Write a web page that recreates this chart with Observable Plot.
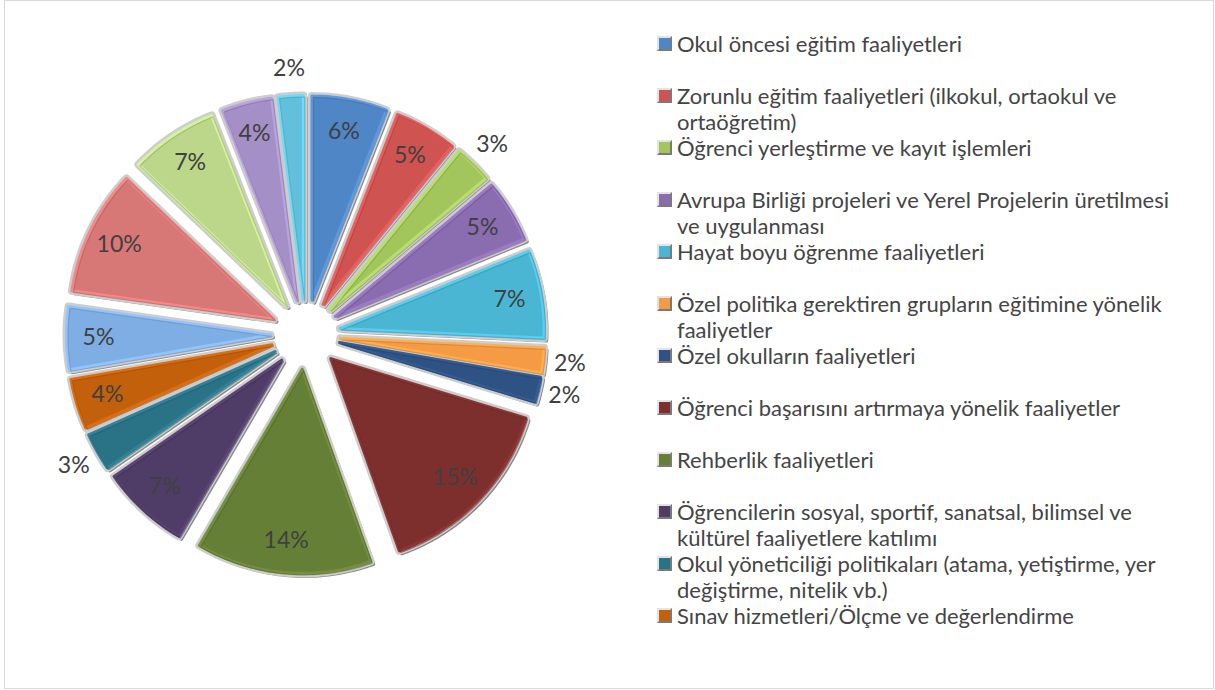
<!DOCTYPE html>
<html><head><meta charset="utf-8">
<script src="https://cdn.jsdelivr.net/npm/d3@7"></script>
<script src="https://cdn.jsdelivr.net/npm/@observablehq/plot@0.6"></script>
<style>
html,body{margin:0;padding:0;background:#fff;}
#chart{position:relative;width:1215px;height:690px;overflow:hidden;font-family:Lato,"Open Sans",sans-serif;}
#frame{position:absolute;left:4px;top:0;width:1210px;height:689px;border:1.5px solid #d9d9d9;box-sizing:border-box;}
#pie{position:absolute;left:0;top:0;}
#legend{position:absolute;left:657px;top:31px;width:555px;height:640px;}
.item{position:absolute;left:0;}
.sw{position:absolute;left:0;top:5px;width:11px;height:11px;border:2px solid;border-color:#e3e3e3 #7a7a7a #7a7a7a #e3e3e3;}
.tx{position:absolute;left:20px;top:0;line-height:26px;color:#454545;white-space:normal;}
.probe{position:absolute;visibility:hidden;white-space:nowrap;font-family:Lato,"Open Sans",sans-serif;}
</style></head>
<body><div id="chart"><div id="frame"></div><div id="pie"></div><div id="legend"></div></div>
<script>
// ---- data ----
const categories = [
  "Okul öncesi eğitim faaliyetleri",
  "Zorunlu eğitim faaliyetleri (ilkokul, ortaokul ve ortaöğretim)",
  "Öğrenci yerleştirme ve kayıt işlemleri",
  "Avrupa Birliği projeleri ve Yerel Projelerin üretilmesi ve uygulanması",
  "Hayat boyu öğrenme faaliyetleri",
  "Özel politika gerektiren grupların eğitimine yönelik faaliyetler",
  "Özel okulların faaliyetleri",
  "Öğrenci başarısını artırmaya yönelik faaliyetler",
  "Rehberlik faaliyetleri",
  "Öğrencilerin sosyal, sportif, sanatsal, bilimsel ve kültürel faaliyetlere katılımı",
  "Okul yöneticiliği politikaları (atama, yetiştirme, yer değiştirme, nitelik vb.)",
  "Sınav hizmetleri/Ölçme ve değerlendirme"
];
const values = [6, 5, 3, 5, 7, 2, 2, 15, 14, 7, 3, 4, 5, 10, 7, 4, 2];
const colors = [
  "#4f86c6", "#cf5350", "#a2c65c", "#8a6cb0", "#4bb6d3", "#f59a45",
  "#2d5283", "#7d2f2e", "#667f37", "#4f3d68", "#2a7387", "#c3600c",
  "#7eaee4", "#d87876", "#bcd68a", "#a48fc6", "#62c0dc"
];

// ---- layout ----
const W = 620, H = 690, CX = 305, CY = 334, R = 204, EXPLODE = 35;
const FONT = 'Lato, "Open Sans", sans-serif';

// calibrate font size with real DOM measurement
function domW(s, size){
  const sp = document.createElement("span");
  sp.className = "probe"; sp.style.fontSize = size + "px"; sp.textContent = s;
  document.body.appendChild(sp);
  const w = sp.getBoundingClientRect().width;
  sp.remove();
  return w;
}
let fs = 20 * 315 / domW(categories[0], 20);
fs = Math.max(15, Math.min(22, fs));

const arcs = d3.pie().sort(null).value(d => d)(values);
const pts = [];
arcs.forEach((p, i) => {
  const mid = (p.startAngle + p.endAngle) / 2;
  const ox = EXPLODE * Math.sin(mid), oy = EXPLODE * Math.cos(mid);
  pts.push({i, x: ox, y: oy});
  const n = Math.max(3, Math.ceil((p.endAngle - p.startAngle) / (Math.PI / 180)));
  for (let k = 0; k <= n; k++) {
    const a = p.startAngle + (p.endAngle - p.startAngle) * k / n;
    pts.push({i, x: ox + R * Math.sin(a), y: oy + R * Math.cos(a)});
  }
  pts.push({i, x: ox, y: oy});
});

const labels = arcs.map((p, i) => {
  const mid = (p.startAngle + p.endAngle) / 2;
  const outside = values[i] <= 3;
  const r = outside ? R + EXPLODE + 27 : R * 0.843 + EXPLODE;
  return {x: r * Math.sin(mid), y: r * Math.cos(mid), text: values[i] + "%"};
});

const plot = Plot.plot({
  width: W, height: H, margin: 0,
  x: {domain: [-CX, W - CX], axis: null},
  y: {domain: [-(H - CY), CY], axis: null},
  color: {type: "identity"},
  style: {background: "transparent"},
  marks: [
    Plot.line(pts, {x: "x", y: "y", z: "i", fill: "#8a8a8a", stroke: "#8a8a8a", strokeWidth: 4, dx: 2.5, dy: 2.5, strokeLinejoin: "round", curve: "linear"}),
    Plot.line(pts, {x: "x", y: "y", z: "i", fill: "#cdcdcd", stroke: "#cdcdcd", strokeWidth: 8, strokeLinejoin: "round", curve: "linear"}),
    Plot.line(pts, {x: "x", y: "y", z: "i", fill: d => colors[d.i], stroke: d => d3.color(colors[d.i]).brighter(0.35).formatHex(), strokeWidth: 3, strokeLinejoin: "round", curve: "linear"}),
    Plot.line(pts, {x: "x", y: "y", z: "i", fill: "none", stroke: d => d3.color(colors[d.i]).darker(0.6).formatHex(), strokeWidth: 1.2, strokeOpacity: 0.6, dx: 1.5, dy: 1.5, curve: "linear"}),
    Plot.text(labels, {x: "x", y: "y", text: "text", fill: "#404040", fontSize: fs * 1.05, fontFamily: FONT})
  ]
});
document.getElementById("pie").appendChild(plot);

// ---- legend ----
const wrapW = Math.ceil(domW("Avrupa Birliği projeleri ve Yerel Projelerin üretilmesi", fs)) + 4;
const leg = d3.select("#legend");
categories.forEach((c, i) => {
  const it = leg.append("div").attr("class", "item").style("top", (i * 52) + "px");
  it.append("span").attr("class", "sw").style("background", colors[i]);
  it.append("div").attr("class", "tx").style("font-size", fs + "px").style("width", wrapW + "px").text(c);
});
</script>
</body></html>
